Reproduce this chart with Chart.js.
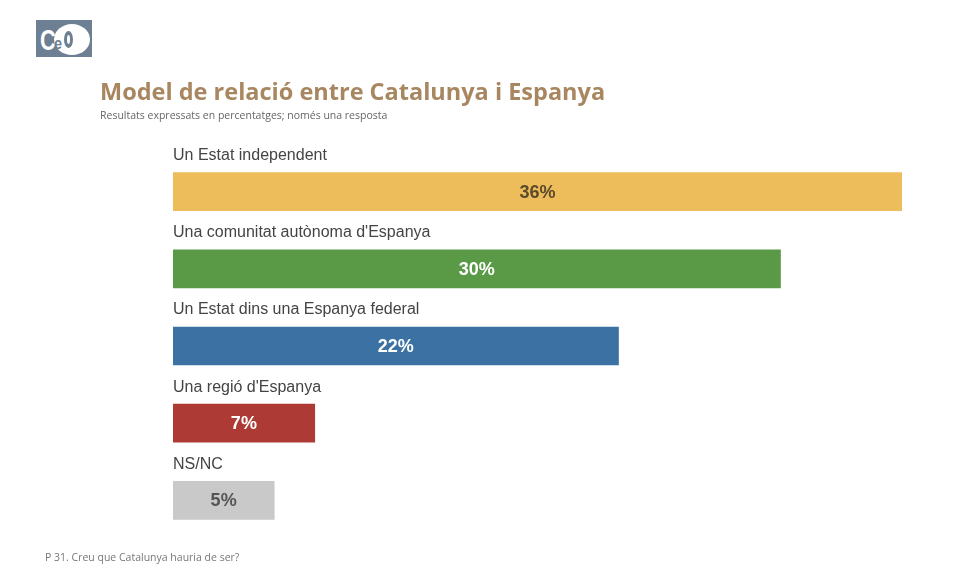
<!DOCTYPE html>
<html>
<head>
<meta charset="utf-8">
<script src="https://cdn.jsdelivr.net/npm/chart.js@4"></script>
<style>
  body { margin: 0; background: #fff; }
  #wrap { position: relative; width: 960px; height: 588px; }
  #logo {
    position: absolute; left: 36px; top: 20px; width: 56px; height: 37px;
    background: #6d7f92; overflow: hidden;
  }
  #logo .o { position: absolute; left: 18px; top: 4px; width: 36px; height: 31px; border-radius: 50%; background: #fff; }
  #logo .c { position: absolute; left: 4px; top: 6px; color: #fff; font: bold 29px/1 "Liberation Sans", Arial, sans-serif; transform: scaleX(0.75); transform-origin: left; }
  #logo .e { position: absolute; left: 18px; top: 15px; color: #6d7f92; font: bold 17px/1 "Liberation Sans", Arial, sans-serif; transform: scaleX(0.85); transform-origin: left; }
  #logo .ring { position: absolute; left: 28px; top: 11px; width: 9px; height: 17px; border-radius: 50%; background: #6d7f92; }
  #logo .ring span { position: absolute; left: 3px; top: 4px; width: 3px; height: 9px; border-radius: 50%; background: #fff; }
  canvas { position: absolute; left: 0; top: 0; }
</style>
</head>
<body>
<div id="wrap">
  <canvas id="myChart" width="960" height="588"></canvas>
  <div id="logo"><div class="o"></div><span class="c">C</span><span class="e">e</span><div class="ring"><span></span></div></div>
</div>
<script>
const categories = [
  'Un Estat independent',
  "Una comunitat autònoma d'Espanya",
  'Un Estat dins una Espanya federal',
  "Una regió d'Espanya",
  'NS/NC'
];
const values = [36, 30, 22, 7, 5];
const barColors = ['#eebd5b', '#5a9a47', '#3c71a3', '#ad3a34', '#c9c9c9'];
const valueColors = ['#5b4b2c', '#ffffff', '#ffffff', '#ffffff', '#555555'];

const chartTitle = 'Model de relació entre Catalunya i Espanya';
const chartSubtitle = 'Resultats expressats en percentatges; només una resposta';
const footNote = 'P 31. Creu que Catalunya hauria de ser?';

const labelsPlugin = {
  id: 'labelsPlugin',
  afterDatasetsDraw(chart) {
    const ctx = chart.ctx;
    const meta = chart.getDatasetMeta(0);
    const left = chart.chartArea.left;
    ctx.save();
    meta.data.forEach((bar, i) => {
      // category name above the bar
      ctx.font = '16px "Liberation Sans", Arial, sans-serif';
      ctx.fillStyle = '#444';
      ctx.textAlign = 'left';
      ctx.textBaseline = 'middle';
      ctx.fillText(categories[i], left, bar.y - 36);
      // value in the middle of the bar
      ctx.font = 'bold 18px "Liberation Sans", Arial, sans-serif';
      ctx.fillStyle = valueColors[i];
      ctx.textAlign = 'center';
      ctx.fillText(values[i] + '%', (bar.x + bar.base) / 2, bar.y + 1);
    });

    ctx.textAlign = 'left';
    ctx.textBaseline = 'alphabetic';
    ctx.fillStyle = '#a88760';
    ctx.font = 'bold 23.5px "Open Sans", sans-serif';
    ctx.fillText(chartTitle, 100, 100);
    ctx.fillStyle = '#666';
    ctx.font = '10.5px "Open Sans", sans-serif';
    ctx.fillText(chartSubtitle, 100, 119);
    ctx.fillStyle = '#777';
    ctx.fillText(footNote, 45, 561);
    ctx.restore();
  }
};

const ctx = document.getElementById('myChart').getContext('2d');
new Chart(ctx, {
  type: 'bar',
  data: {
    labels: categories,
    datasets: [{
      data: values,
      backgroundColor: barColors,
      barThickness: 38
    }]
  },
  options: {
    indexAxis: 'y',
    responsive: false,
    animation: false,
    layout: { padding: { top: 153, bottom: 49, left: 173, right: 58 } },
    scales: {
      x: { display: false, min: 0, max: 36 },
      y: { display: false }
    },
    plugins: {
      legend: { display: false },
      tooltip: { enabled: false }
    }
  },
  plugins: [labelsPlugin]
});
</script>
</body>
</html>
